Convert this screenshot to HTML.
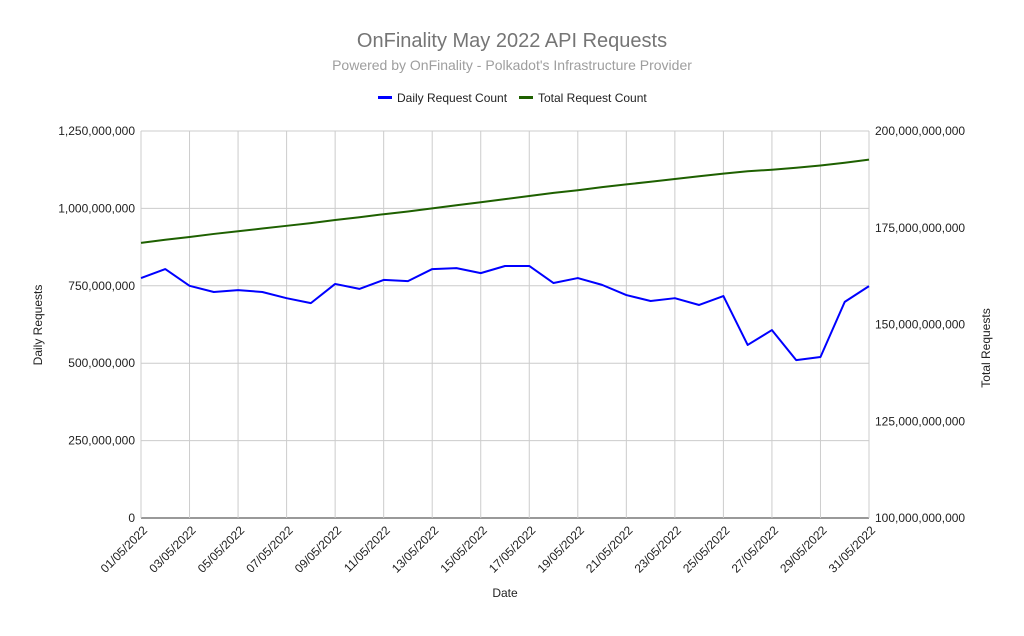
<!DOCTYPE html>
<html><head><meta charset="utf-8"><style>
body{margin:0;background:#fff;font-family:"Liberation Sans",Arial,sans-serif}
svg text{font-family:"Liberation Sans",Arial,sans-serif}
</style></head><body>
<svg id="chart" width="1024" height="631" xmlns="http://www.w3.org/2000/svg">
<rect width="1024" height="631" fill="#fff"/>
<text x="512" y="47" text-anchor="middle" font-size="20" fill="#757575">OnFinality May 2022 API Requests</text>
<text x="512" y="70" text-anchor="middle" font-size="14" fill="#9e9e9e">Powered by OnFinality - Polkadot's Infrastructure Provider</text>
<g>
<g><rect x="378" y="96" width="14" height="3" fill="#0000ff"/><text x="397" y="102" font-size="12" fill="#222">Daily Request Count</text></g>
<g><rect x="519" y="96" width="14" height="3" fill="#1e6000"/><text x="538" y="102" font-size="12" fill="#222">Total Request Count</text></g>
</g>
<g id="grid"></g><g id="axes"></g><g id="series"></g>
<text x="505" y="597" text-anchor="middle" font-size="12" fill="#222">Date</text>
<text transform="translate(42,325) rotate(-90)" text-anchor="middle" font-size="12" fill="#222">Daily Requests</text>
<text transform="translate(990,348) rotate(-90)" text-anchor="middle" font-size="12" fill="#222">Total Requests</text>
</svg>
<script>
const dates=[];for(let i=1;i<=31;i++)dates.push(String(i).padStart(2,'0')+'/05/2022');
const daily=[775,804,750,730,736,730,710,694,756,740,769,765,804,807,791,814,814,759,775,753,720,701,710,688,717,559,607,510,520,698,749];
const total=[171.1,171.9,172.6,173.4,174.1,174.8,175.5,176.2,177.0,177.7,178.5,179.2,180.0,180.8,181.6,182.4,183.2,184.0,184.7,185.5,186.2,186.9,187.6,188.3,189.0,189.6,190.0,190.5,191.1,191.8,192.6];
const leftTicks=[0,250,500,750,1000,1250];
const leftLabels=['0','250,000,000','500,000,000','750,000,000','1,000,000,000','1,250,000,000'];
const rightTicks=[100,125,150,175,200];
const rightLabels=['100,000,000,000','125,000,000,000','150,000,000,000','175,000,000,000','200,000,000,000'];
const X0=141,X1=869,Y0=518,Y1=131,NS='http://www.w3.org/2000/svg';
const xs=i=>X0+(X1-X0)*i/(dates.length-1);
const yl=v=>Y0-(Y0-Y1)*v/1250;
const yr=v=>Y0-(Y0-Y1)*(v-100)/100;
function mk(t,a,p){const e=document.createElementNS(NS,t);for(const k in a)e.setAttribute(k,a[k]);p.appendChild(e);return e;}
const grid=document.getElementById('grid'),axes=document.getElementById('axes'),ser=document.getElementById('series');
leftTicks.forEach((v,i)=>{
 const l=mk('line',{x1:X0,x2:X1,y1:yl(v),y2:yl(v),stroke:i==0?'#333':'#ccc','stroke-width':1},grid);
 
 
 const t=mk('text',{x:X0-6,y:yl(v)+4,'text-anchor':'end','font-size':12,fill:'#222'},axes);t.textContent=leftLabels[i];
 
 
});
rightTicks.forEach((v,i)=>{
 const t=mk('text',{x:X1+6,y:yr(v)+4,'font-size':12,fill:'#222'},axes);t.textContent=rightLabels[i];
 
 
});
dates.forEach((d,i)=>{
 if(i%2)return;
 const l=mk('line',{x1:xs(i),x2:xs(i),y1:Y1,y2:Y0,stroke:'#ccc','stroke-width':1},grid);
 
 
 const t=mk('text',{transform:`translate(${xs(i)+7},${Y0+13}) rotate(-45)`,'text-anchor':'end','font-size':12,fill:'#222'},axes);t.textContent=d;
 
 
});
const p1=mk('polyline',{points:daily.map((v,i)=>xs(i)+','+yl(v)).join(' '),fill:'none',stroke:'#0000ff','stroke-width':2,'stroke-linejoin':'round'},ser);


const p2=mk('polyline',{points:total.map((v,i)=>xs(i)+','+yr(v)).join(' '),fill:'none',stroke:'#1e6000','stroke-width':2,'stroke-linejoin':'round'},ser);


</script>
</body></html>
